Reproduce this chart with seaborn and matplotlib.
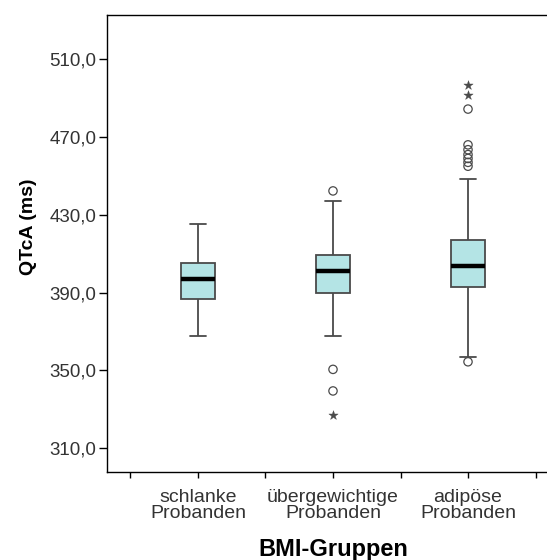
import numpy as np
import pandas as pd
import matplotlib
matplotlib.use("Agg")
import matplotlib.pyplot as plt
from matplotlib.ticker import FuncFormatter
import seaborn as sns

gruppen = ["schlanke\nProbanden", "übergewichtige\nProbanden", "adipöse\nProbanden"]

# Kennwerte der Boxen in ms
whisker_unten = [367.7, 367.8, 357.0]
q1 = [386.5, 389.8, 392.7]
median = [396.8, 401.1, 403.8]
q3 = [405.4, 409.3, 417.0]
whisker_oben = [425.1, 437.1, 448.4]

# Ausreisser (Kreise) und Extremwerte (Sterne)
ausreisser_gruppe = [gruppen[1]] * 3 + [gruppen[2]] * 8
ausreisser_wert = [442.3, 350.5, 339.4,
                   484.4, 466.0, 463.5, 461.0, 459.0, 457.0, 455.0, 354.4]
extrem_gruppe = [gruppen[1], gruppen[2], gruppen[2]]
extrem_wert = [327.0, 496.8, 491.6]

y_ticks = [310, 350, 390, 430, 470, 510]

# Fünf-Punkte-Zusammenfassung je Gruppe -> Box mit whis=inf
zeilen = []
for i, g in enumerate(gruppen):
    for v in (whisker_unten[i], q1[i], median[i], q3[i], whisker_oben[i]):
        zeilen.append((g, v))
df_box = pd.DataFrame(zeilen, columns=["BMI", "QTcA"])

sns.set_style("ticks")
plt.rcParams["font.family"] = ["Liberation Sans", "DejaVu Sans"]

fig = plt.figure(figsize=(5.47, 5.60), dpi=100)
# Achse reicht rechts über den Bildrand hinaus (wie im Original)
ax = fig.add_axes([107 / 547, 88 / 560, 452 / 547, 457 / 560])

linie = "#4a4a4a"
sns.boxplot(data=df_box, x="BMI", y="QTcA", order=gruppen, whis=np.inf,
            width=0.25, color="#b4e4e5", saturation=1, linecolor=linie,
            linewidth=1.3, fliersize=0,
            medianprops=dict(color="black", linewidth=3.2),
            ax=ax)

sns.stripplot(x=ausreisser_gruppe, y=ausreisser_wert, order=gruppen,
              jitter=False, marker="o", size=6, color=linie,
              facecolors="none", edgecolor=linie, linewidth=0.9, ax=ax)
sns.stripplot(x=extrem_gruppe, y=extrem_wert, order=gruppen,
              jitter=False, marker="*", size=7, color=linie,
              edgecolor=linie, linewidth=0.3, ax=ax)

ax.set_xlim(-0.674, 2.674)
ax.set_ylim(297.7, 532.8)
ax.set_yticks(y_ticks)
ax.yaxis.set_major_formatter(FuncFormatter(lambda v, p: f"{v:.1f}".replace(".", ",")))
ax.set_xticks([0, 1, 2])
ax.set_xticklabels(gruppen, linespacing=0.95)
ax.set_xticks([-0.5, 0.5, 1.5, 2.5], minor=True)

ax.tick_params(axis="y", length=5.5, width=1, pad=2, labelsize=13.5,
               labelcolor="#333333", color="black")
ax.tick_params(axis="x", which="both", length=4, width=1, pad=8,
               labelsize=14, labelcolor="#333333", color="black")

for s in ["left", "bottom", "top"]:
    ax.spines[s].set_visible(True)
    ax.spines[s].set_color("black")
    ax.spines[s].set_linewidth(1)
ax.spines["right"].set_visible(False)

ax.set_ylabel("QTcA (ms)", fontsize=14, fontweight="bold", color="black")
ax.yaxis.set_label_coords(-0.155, 0.536)
ax.set_xlabel("BMI-Gruppen", fontsize=17, fontweight="bold", color="black")
ax.xaxis.set_label_coords(0.5, -0.144)

fig.savefig("out.png", dpi=100)
